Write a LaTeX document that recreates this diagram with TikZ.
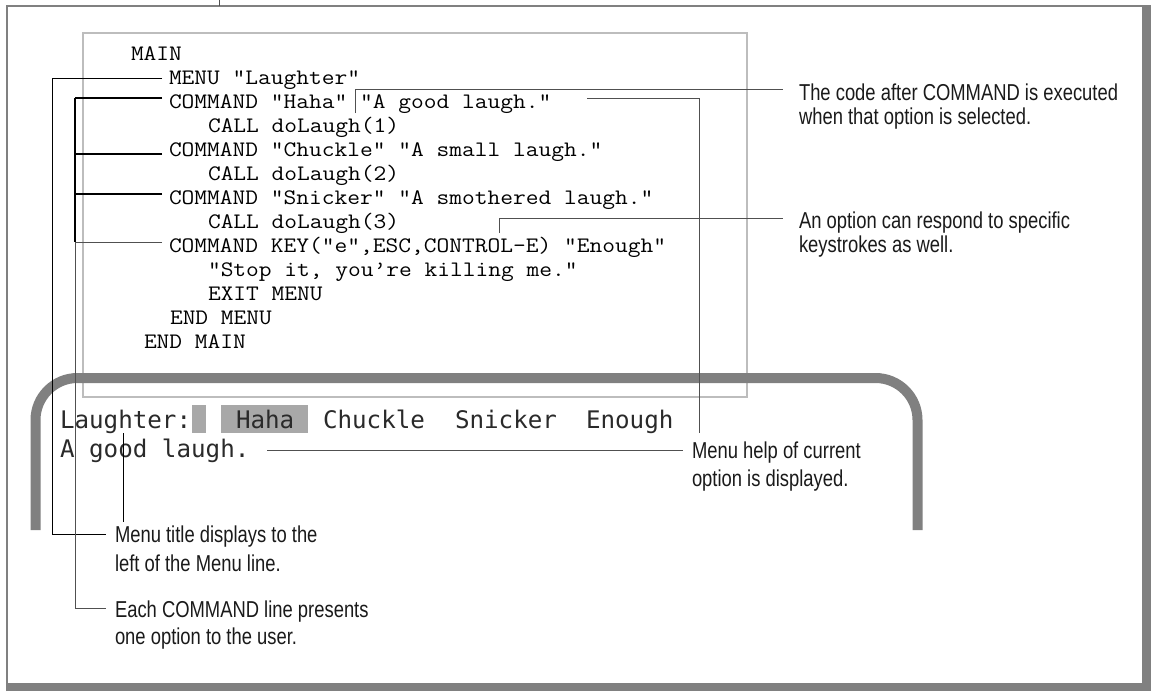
\documentclass[tikz,border=0pt]{standalone}
\usepackage{fontspec}
\newfontfamily\codefont[FakeStretch=1.12]{Latin Modern Mono}
\newfontfamily\scrfont{DejaVu Sans Mono}
\newfontfamily\callfont[FakeStretch=0.8]{Liberation Sans}
\definecolor{framegray}{HTML}{808080}
\definecolor{boxgray}{HTML}{BDBDBD}
\definecolor{hlgray}{HTML}{A8A8A8}
\definecolor{leadgray}{HTML}{505050}
\definecolor{txtdark}{HTML}{1A1A1A}
\definecolor{scrtext}{HTML}{2A2A2A}
\begin{document}
\begin{tikzpicture}[x=0.5pt,y=-0.5pt,
  code/.style={anchor=base west,inner sep=0pt,outer sep=0pt,font=\codefont\fontsize{11.05}{12}\selectfont,text=black},
  scr/.style={anchor=base west,inner sep=0pt,outer sep=0pt,font=\scrfont\fontsize{12.1}{14}\selectfont,text=scrtext},
  call/.style={anchor=base west,inner sep=0pt,outer sep=0pt,font=\callfont\fontsize{11.5}{13.5}\selectfont,text=txtdark},
  leader/.style={draw=leadgray,line width=0.5pt},
  bracket/.style={draw=black,line width=0.8pt},
]
\useasboundingbox (0,0) rectangle (1151,691);
\fill[white] (0,0) rectangle (1151,691);
% outer frame with shadow
\draw[framegray,line width=1pt] (7,691) -- (7,6) -- (1151,6);
\fill[framegray] (1142,6) rectangle (1151,691);
\fill[framegray] (7,683) rectangle (1151,691);
\coordinate (stubtop) at (219,0);
\coordinate (stubbot) at (219,6);
\draw[leadgray,line width=0.5pt] (stubtop) -- (stubbot);
% code box
\draw[boxgray,line width=0.75pt] (83,33) rectangle (747,397);
% screen
\draw[framegray,line width=5pt,rounded corners=21pt] (35.5,530) -- (35.5,378) -- (917.5,378) -- (917.5,530);
\fill[hlgray] (192,405) rectangle (206,433);
\fill[hlgray] (221,405) rectangle (308,433);
% code
\node[code] (l1) at (131,60) {MAIN};
\node[code] (l2) at (169,84) {MENU "Laughter"};
\node[code] (l3) at (169,108) {COMMAND "Haha" "A good laugh."};
\node[code] (l4) at (208,132) {CALL doLaugh(1)};
\node[code] (l5) at (169,156) {COMMAND "Chuckle" "A small laugh."};
\node[code] (l6) at (208,180) {CALL doLaugh(2)};
\node[code] (l7) at (169,204) {COMMAND "Snicker" "A smothered laugh."};
\node[code] (l8) at (208,228) {CALL doLaugh(3)};
\node[code] (l9) at (169,252) {COMMAND KEY("e",ESC,CONTROL-E) "Enough"};
\node[code] (l10) at (208,276) {"Stop it, you’re killing me."};
\node[code] (l11) at (208,300) {EXIT MENU};
\node[code] (l12) at (170,324) {END MENU};
\node[code] (l13) at (144,348) {END MAIN};
% screen text
\node[scr] (s1) at (60,428) {Laughter:};
\node[scr] (s2) at (236,428) {Haha};
\node[scr] (s3) at (323,428) {Chuckle};
\node[scr] (s4) at (455,428) {Snicker};
\node[scr] (s5) at (586,428) {Enough};
\node[scr] (s6) at (60,457) {A good laugh.};
% callouts
\node[call] (c1a) at (799,100) {The code after COMMAND is executed};
\node[call] (c1b) at (799,124) {when that option is selected.};
\node[call] (c2a) at (799,228) {An option can respond to specific};
\node[call] (c2b) at (799,252) {keystrokes as well.};
\node[call] (c3a) at (692,458) {Menu help of current};
\node[call] (c3b) at (692,486) {option is displayed.};
\node[call] (c4a) at (115,542) {Menu title displays to the};
\node[call] (c4b) at (115,571) {left of the Menu line.};
\node[call] (c5a) at (115,617) {Each COMMAND line presents};
\node[call] (c5b) at (115,644) {one option to the user.};
% connector points
\coordinate (hahaTick) at (355,113);
\coordinate (c1end) at (783,89.5);
\coordinate (goodEnd) at (587,98);
\coordinate (helpDrop) at (699,433);
\coordinate (scrHelp) at (267,450);
\coordinate (c3end) at (683,450);
\coordinate (keyTick) at (499,233);
\coordinate (c2end) at (783,218);
\coordinate (menuR) at (162,78);
\coordinate (menuC) at (52,534);
\coordinate (c4end) at (106,534);
\coordinate (titleTop) at (123,433);
\coordinate (titleBot) at (123,522);
\coordinate (cmdA) at (162,98);
\coordinate (cmdB) at (162,154);
\coordinate (cmdC) at (162,194);
\coordinate (cmdD) at (162,242);
\coordinate (brA) at (75,98);
\coordinate (brB) at (75,154);
\coordinate (brC) at (75,194);
\coordinate (brD) at (75,242);
\coordinate (brE) at (75,608);
\coordinate (c5end) at (106,608);
% connectors
\draw[leader] (hahaTick) |- (c1end);
\draw[leader] (goodEnd) -| (helpDrop);
\draw[leader] (scrHelp) -- (c3end);
\draw[leader] (keyTick) |- (c2end);
\draw[leader,draw=black] (menuR) -| (menuC) -- (c4end);
\draw[leader,draw=black] (titleTop) -- (titleBot);
\draw[bracket] (cmdA) -- (brA);
\draw[bracket] (cmdB) -- (brB);
\draw[bracket] (cmdC) -- (brC);
\draw[leader] (cmdD) -- (brD);
\draw[bracket] (brA) -- (brD);
\draw[leader] (brD) -- (brE) -- (c5end);
\end{tikzpicture}
\end{document}
